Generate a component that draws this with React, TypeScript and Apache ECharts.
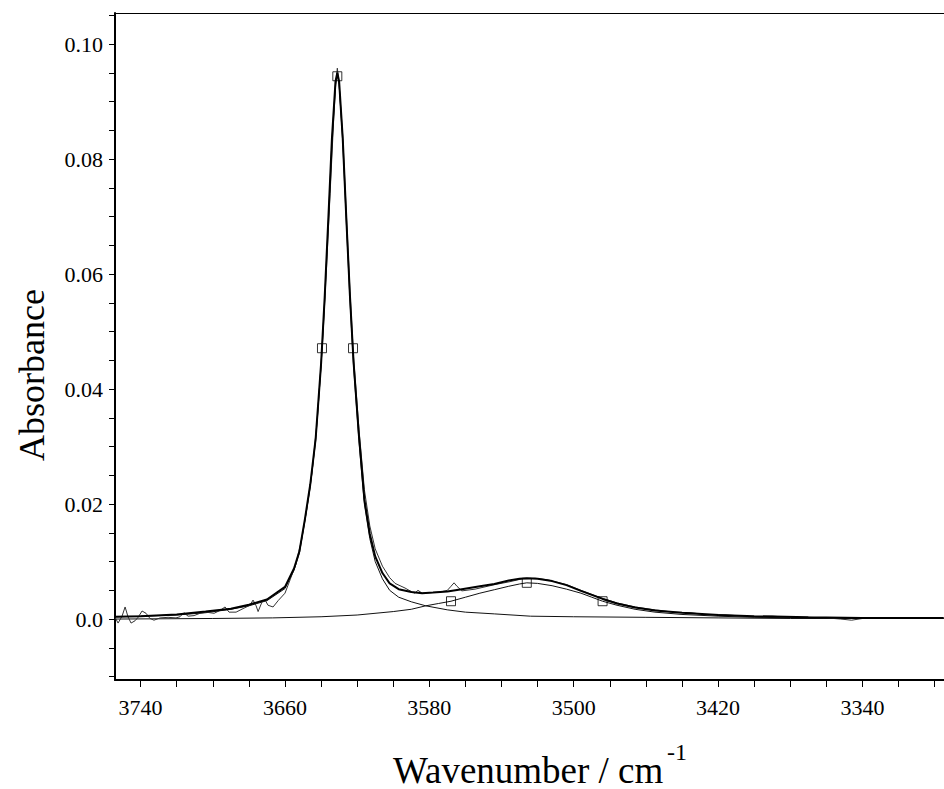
import React, { useEffect, useRef } from "react";
import * as echarts from "echarts";

// Measured spectrum
const measuredWn = [3754, 3752.5, 3750.3, 3748.6, 3747.0, 3745.3, 3743.1, 3741.4, 3739.2, 3737.0, 3734.8, 3732.6, 3729.2, 3724.8, 3720.4, 3718.2, 3716.0, 3713.7, 3710.4, 3707.1, 3703.7, 3699.3, 3696.0, 3693.2, 3691.0, 3687.1, 3682.7, 3679.4, 3677.7, 3676.0, 3674.9, 3672.7, 3671.0, 3669.4, 3666.6, 3663.8, 3660.0, 3657.2, 3654, 3651, 3648, 3645, 3642, 3639, 3637, 3635, 3633, 3632, 3631, 3630, 3628, 3626, 3624, 3622, 3619, 3616, 3613, 3610, 3606, 3602, 3599, 3593.5, 3589.6, 3588, 3586.3, 3584, 3574, 3570, 3568, 3566.3, 3564.7, 3562, 3554.7, 3543.6, 3535.3, 3528.6, 3521.4, 3514.2, 3504, 3496, 3490, 3484, 3476, 3466, 3455, 3445, 3435, 3428, 3420, 3410, 3400, 3390, 3380, 3370, 3360, 3352, 3346, 3340, 3330, 3310, 3295];
const measuredAbs = [0.0002, -0.0007, 0.0005, 0.0021, 0.0004, -0.0007, -0.0003, 0.0003, 0.0014, 0.0010, 0.0001, -0.0002, 0.0002, 0.0003, 0.0002, 0.0004, 0.0011, 0.0005, 0.0006, 0.0010, 0.0012, 0.0010, 0.0015, 0.0021, 0.0012, 0.0012, 0.0019, 0.0024, 0.0033, 0.0023, 0.0013, 0.0030, 0.0033, 0.0024, 0.0021, 0.0032, 0.0045, 0.0068, 0.0095, 0.0135, 0.0190, 0.0255, 0.0350, 0.0490, 0.0610, 0.0740, 0.0870, 0.0925, 0.0958, 0.0930, 0.0840, 0.0705, 0.0570, 0.0455, 0.0330, 0.0225, 0.0162, 0.0122, 0.0092, 0.0072, 0.0062, 0.0054, 0.0047, 0.0045, 0.0050, 0.0045, 0.0047, 0.0050, 0.0057, 0.0063, 0.0057, 0.0049, 0.0052, 0.0060, 0.0065, 0.0070, 0.0071, 0.0068, 0.0060, 0.0050, 0.0043, 0.0036, 0.0028, 0.0021, 0.0016, 0.0012, 0.0011, 0.0008, 0.0008, 0.0006, 0.0004, 0.0005, 0.0003, 0.0003, 0.0002, 0.0000, -0.0002, 0.0001, 0.0002, 0.0002, 0.0002];

// Total fit
const fitWn = [3754, 3740, 3720, 3704, 3690, 3680, 3670, 3660, 3655, 3652, 3649, 3646, 3643, 3640, 3638, 3636, 3634, 3632, 3631, 3630, 3628, 3626, 3624, 3622, 3619, 3616, 3613, 3610, 3606, 3602, 3597, 3590, 3584, 3578, 3570, 3562, 3552, 3544, 3536, 3530, 3526, 3520, 3512, 3504, 3496, 3490, 3484, 3476, 3466, 3455, 3440, 3420, 3400, 3370, 3340, 3295];
const fitAbs = [0.0004, 0.0005, 0.0008, 0.0013, 0.0018, 0.0025, 0.0034, 0.0056, 0.0088, 0.0118, 0.0173, 0.0234, 0.0314, 0.0444, 0.0560, 0.0695, 0.0835, 0.0935, 0.0950, 0.0935, 0.0836, 0.0696, 0.0562, 0.0447, 0.0318, 0.0208, 0.0148, 0.0109, 0.0080, 0.0062, 0.0052, 0.0047, 0.0045, 0.0046, 0.0048, 0.0052, 0.0057, 0.0061, 0.0067, 0.0070, 0.0071, 0.0070, 0.0066, 0.0059, 0.0049, 0.0042, 0.0035, 0.0027, 0.0020, 0.0015, 0.0011, 0.0007, 0.0005, 0.0003, 0.0002, 0.0002];

// Component 1 (sharp band)
const comp1Wn = [3754, 3740, 3720, 3704, 3690, 3680, 3670, 3660, 3655, 3652, 3649, 3646, 3643, 3640, 3638, 3636, 3634, 3632, 3631, 3630, 3628, 3626, 3624, 3622, 3619, 3616, 3613, 3610, 3606, 3602, 3597, 3590, 3582, 3570, 3560, 3544, 3524, 3500, 3460, 3420, 3380, 3340, 3295];
const comp1Abs = [0.0004, 0.0005, 0.0007, 0.0011, 0.0017, 0.0023, 0.0032, 0.0053, 0.0085, 0.0115, 0.0170, 0.0230, 0.0310, 0.0440, 0.0555, 0.0690, 0.0830, 0.0930, 0.0945, 0.0930, 0.0830, 0.0690, 0.0555, 0.0440, 0.0310, 0.0200, 0.0140, 0.0100, 0.0070, 0.0050, 0.0038, 0.0030, 0.0023, 0.0016, 0.0012, 0.0009, 0.0005, 0.0004, 0.0003, 0.0002, 0.0001, 0.0001, 0.0001];

// Component 2 (broad band)
const comp2Wn = [3754, 3700, 3667, 3640, 3620, 3600, 3590, 3582, 3575, 3568, 3560, 3552, 3544, 3536, 3530, 3526, 3520, 3512, 3504, 3496, 3490, 3484, 3476, 3466, 3455, 3440, 3420, 3400, 3370, 3340, 3295];
const comp2Abs = [0.0000, 0.0001, 0.0002, 0.0004, 0.0007, 0.0013, 0.0017, 0.0023, 0.0027, 0.0031, 0.0038, 0.0045, 0.0051, 0.0057, 0.0061, 0.0063, 0.0062, 0.0058, 0.0052, 0.0045, 0.0038, 0.0031, 0.0024, 0.0017, 0.0012, 0.0008, 0.0005, 0.0003, 0.0002, 0.0001, 0.0001];

// Square markers on the components
const markerWn = [3639.5, 3631, 3622.3, 3568, 3526, 3484];
const markerAbs = [0.0471, 0.0944, 0.0471, 0.0031, 0.0063, 0.0031];

// Axis ticks and labels
const xTickValues = [3740, 3720, 3700, 3680, 3660, 3640, 3620, 3600, 3580, 3560, 3540, 3520, 3500, 3480, 3460, 3440, 3420, 3400, 3380, 3360, 3340, 3320, 3300];
const xLabelValues = [3740, 3660, 3580, 3500, 3420, 3340];
const yTickValues = [-0.01, -0.005, 0, 0.005, 0.01, 0.015, 0.02, 0.025, 0.03, 0.035, 0.04, 0.045, 0.05, 0.055, 0.06, 0.065, 0.07, 0.075, 0.08, 0.085, 0.09, 0.095, 0.1, 0.105];
const yLabelValues = [0, 0.02, 0.04, 0.06, 0.08, 0.1];

const zip = (a: number[], b: number[]) => {
  const n = Math.min(a.length, b.length);
  const out: number[][] = [];
  for (let i = 0; i < n; i++) out.push([a[i], b[i]]);
  return out;
};

const FONT = "Liberation Serif";

export default function App() {
  const ref = useRef<HTMLDivElement>(null);

  useEffect(() => {
    if (!ref.current) return;
    const chart = echarts.init(ref.current, undefined, { renderer: "svg" });
    const xMin = 3294.8;
    const xMax = 3754.2;
    chart.setOption({
      animation: false,
      backgroundColor: "#ffffff",
      textStyle: { fontFamily: FONT },
      grid: { left: 115, top: 13, right: 0, bottom: 109, containLabel: false },
      xAxis: [
        {
          type: "value",
          inverse: true,
          min: xMin,
          max: xMax,
          position: "bottom",
          splitLine: { show: false },
          axisLine: { show: true, onZero: false, lineStyle: { color: "#000", width: 2 } },
          axisTick: { show: true, customValues: xTickValues, length: 7, lineStyle: { color: "#000", width: 1 } },
          axisLabel: {
            show: true,
            customValues: xLabelValues,
            margin: 16,
            color: "#000",
            fontFamily: FONT,
            fontSize: 22,
            formatter: (v: number) => String(Math.round(v)),
          },
        },
        {
          type: "value",
          inverse: true,
          min: xMin,
          max: xMax,
          position: "top",
          splitLine: { show: false },
          axisLine: { show: true, onZero: false, lineStyle: { color: "#000", width: 1 } },
          axisTick: { show: false },
          axisLabel: { show: false },
        },
      ],
      yAxis: {
        type: "value",
        min: -0.0106,
        max: 0.1054,
        splitLine: { show: false },
        axisLine: { show: true, onZero: false, lineStyle: { color: "#000", width: 2 } },
        axisTick: { show: true, customValues: yTickValues, length: 6, lineStyle: { color: "#000", width: 1 } },
        axisLabel: {
          show: true,
          customValues: yLabelValues,
          margin: 12,
          color: "#000",
          fontFamily: FONT,
          fontSize: 22,
          formatter: (v: number) => (Math.abs(v) < 1e-9 ? "0.0" : v.toFixed(2)),
        },
      },
      graphic: [
        {
          type: "text",
          x: 32,
          y: 375,
          rotation: Math.PI / 2,
          style: {
            text: "Absorbance",
            fontFamily: FONT,
            fontSize: 36,
            fill: "#000",
            textAlign: "center",
            textVerticalAlign: "middle",
          },
        },
        {
          type: "text",
          x: 393,
          y: 770,
          style: {
            text: "Wavenumber / cm",
            fontFamily: FONT,
            fontSize: 37,
            fill: "#000",
            textAlign: "left",
            textVerticalAlign: "middle",
          },
        },
        {
          type: "text",
          x: 667,
          y: 752,
          style: {
            text: "-1",
            fontFamily: FONT,
            fontSize: 24,
            fill: "#000",
            textAlign: "left",
            textVerticalAlign: "middle",
          },
        },
      ],
      series: [
        {
          name: "Component 1",
          type: "line",
          data: zip(comp1Wn, comp1Abs),
          showSymbol: false,
          lineStyle: { color: "#111", width: 1 },
          z: 2,
        },
        {
          name: "Component 2",
          type: "line",
          data: zip(comp2Wn, comp2Abs),
          showSymbol: false,
          lineStyle: { color: "#111", width: 1 },
          z: 2,
        },
        {
          name: "Measured",
          type: "line",
          data: zip(measuredWn, measuredAbs),
          showSymbol: false,
          lineStyle: { color: "#333", width: 1 },
          z: 3,
        },
        {
          name: "Fit",
          type: "line",
          data: zip(fitWn, fitAbs),
          showSymbol: false,
          lineStyle: { color: "#000", width: 2 },
          z: 4,
        },
        {
          name: "Markers",
          type: "scatter",
          data: zip(markerWn, markerAbs),
          symbol: "rect",
          symbolSize: 9,
          itemStyle: { color: "rgba(255,255,255,0)", borderColor: "#000", borderWidth: 1 },
          z: 5,
        },
      ],
    });
    return () => chart.dispose();
  }, []);

  return <div ref={ref} style={{ width: 944, height: 789, position: "absolute", left: 0, top: 0 }} />;
}
